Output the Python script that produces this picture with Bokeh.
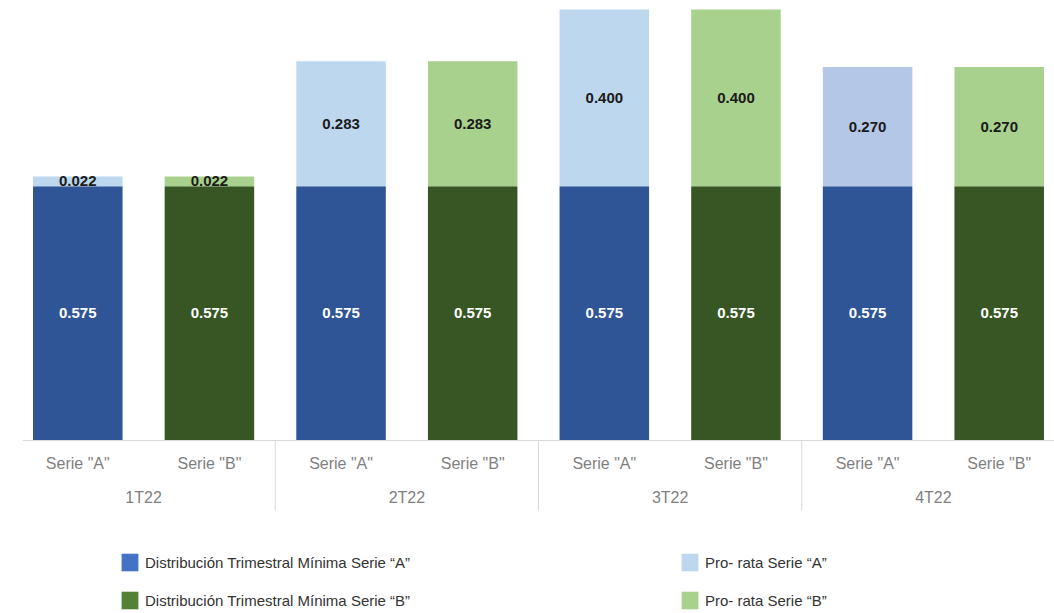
from bokeh.plotting import figure
from bokeh.models import FactorRange, Range1d, Legend, LegendItem, ColumnDataSource
from bokeh.core.properties import value
from bokeh.embed import file_html
from bokeh.resources import INLINE

# ---- data ----
quarters = ["1T22", "2T22", "3T22", "4T22"]
series = ['Serie "A"', 'Serie "B"']
minima = [0.575, 0.575, 0.575, 0.575, 0.575, 0.575, 0.575, 0.575]
prorata = [0.022, 0.022, 0.283, 0.283, 0.400, 0.400, 0.270, 0.270]
legend_labels = [
    "Distribución Trimestral Mínima Serie “A”",
    "Distribución Trimestral Mínima Serie “B”",
    "Pro- rata Serie “A”",
    "Pro- rata Serie “B”",
]

# ---- styles ----
BASE_COL = {'Serie "A"': "#2f5597", 'Serie "B"': "#375623"}
TOP_COL = {'Serie "A"': "#bdd7ee", 'Serie "B"': "#a9d18e"}
LEGEND_COL = ["#4472c4", "#548235", "#bdd7ee", "#a9d18e"]
FONT = "Liberation Sans"
AXIS_DEPTH = 0.158   # depth of the category separators below the baseline (data units)

x = [(q, s) for q in quarters for s in series]
base_colors = [BASE_COL[s] for q, s in x]
top_colors = [("#b4c7e7" if (q == "4T22" and s == 'Serie "A"') else TOP_COL[s]) for q, s in x]
tops = [m + r for m, r in zip(minima, prorata)]

src = ColumnDataSource(dict(
    x=x, minima=minima, prorata=prorata, tops=tops,
    base_c=base_colors, top_c=top_colors,
    base_mid=[m / 2 for m in minima],
    top_mid=[m + r / 2 for m, r in zip(minima, prorata)],
    base_lbl=[f"{v:.3f}" for v in minima],
    top_lbl=[f"{v:.3f}" for v in prorata],
))

p = figure(
    width=1054, height=613,
    x_range=FactorRange(*x, factor_padding=0, group_padding=0, subgroup_padding=0,
                        range_padding=-0.08, range_padding_units="absolute"),
    y_range=Range1d(-0.391, 0.977),
    output_backend="svg", toolbar_location=None,
    min_border_left=22, min_border_right=0, min_border_top=8, min_border_bottom=0,
)
p.outline_line_color = None
p.xgrid.visible = False
p.ygrid.visible = False
p.yaxis.visible = False

p.vbar(x="x", bottom=0, top="minima", width=0.68, fill_color="base_c", line_color=None, source=src)
p.vbar(x="x", bottom="minima", top="tops", width=0.68, fill_color="top_c", line_color=None, source=src)

p.text(x="x", y="base_mid", text="base_lbl", source=src, text_align="center", text_baseline="middle",
       text_color="white", text_font=value(FONT), text_font_style="bold", text_font_size="15px")
p.text(x="x", y="top_mid", text="top_lbl", source=src, text_align="center", text_baseline="middle",
       text_color="#1a1a1a", text_font=value(FONT), text_font_style="bold", text_font_size="15px")

# group separators (left edge of each quarter group)
sep_x = [(q, series[0], -0.5) for q in quarters]
p.segment(x0=sep_x, y0=[0] * len(sep_x), x1=sep_x, y1=[-AXIS_DEPTH] * len(sep_x),
          line_color="#d9d9d9", line_width=1)

ax = p.xaxis[0]
ax.fixed_location = 0
ax.axis_line_color = "#d9d9d9"
ax.axis_line_width = 1
ax.major_tick_line_color = None
ax.major_tick_out = 0
ax.major_tick_in = 0
ax.major_label_standoff = 14
ax.major_label_text_font = FONT
ax.major_label_text_font_size = "16px"
ax.major_label_text_color = "#7f7f7f"
ax.group_text_font = FONT
ax.group_text_font_size = "16px"
ax.group_text_font_style = "normal"
ax.group_text_color = "#7f7f7f"
ax.separator_line_color = None

# legend (swatch colours differ slightly from bars, as in the original);
# proxy renderers are zero-height bars so that only their legend swatch shows
items = []
for lbl, col in zip(legend_labels, LEGEND_COL):
    proxy = ColumnDataSource(dict(x=[x[0]], bottom=[0.0], top=[0.0]))
    r = p.vbar(x="x", bottom="bottom", top="top", width=0.5, fill_color=col, line_color=None,
               source=proxy)
    items.append(LegendItem(label=lbl, renderers=[r]))

legend = Legend(items=items, location=(97, 2), ncols=2, orientation="vertical",
                glyph_width=21, glyph_height=22, spacing=16, label_standoff=5,
                label_width=518, label_height=22, padding=0, margin=0,
                border_line_color=None, background_fill_alpha=0,
                label_text_font=FONT, label_text_font_size="15px", label_text_color="#333333")
p.add_layout(legend, "center")

open("out.html", "w").write(file_html(p, INLINE))
